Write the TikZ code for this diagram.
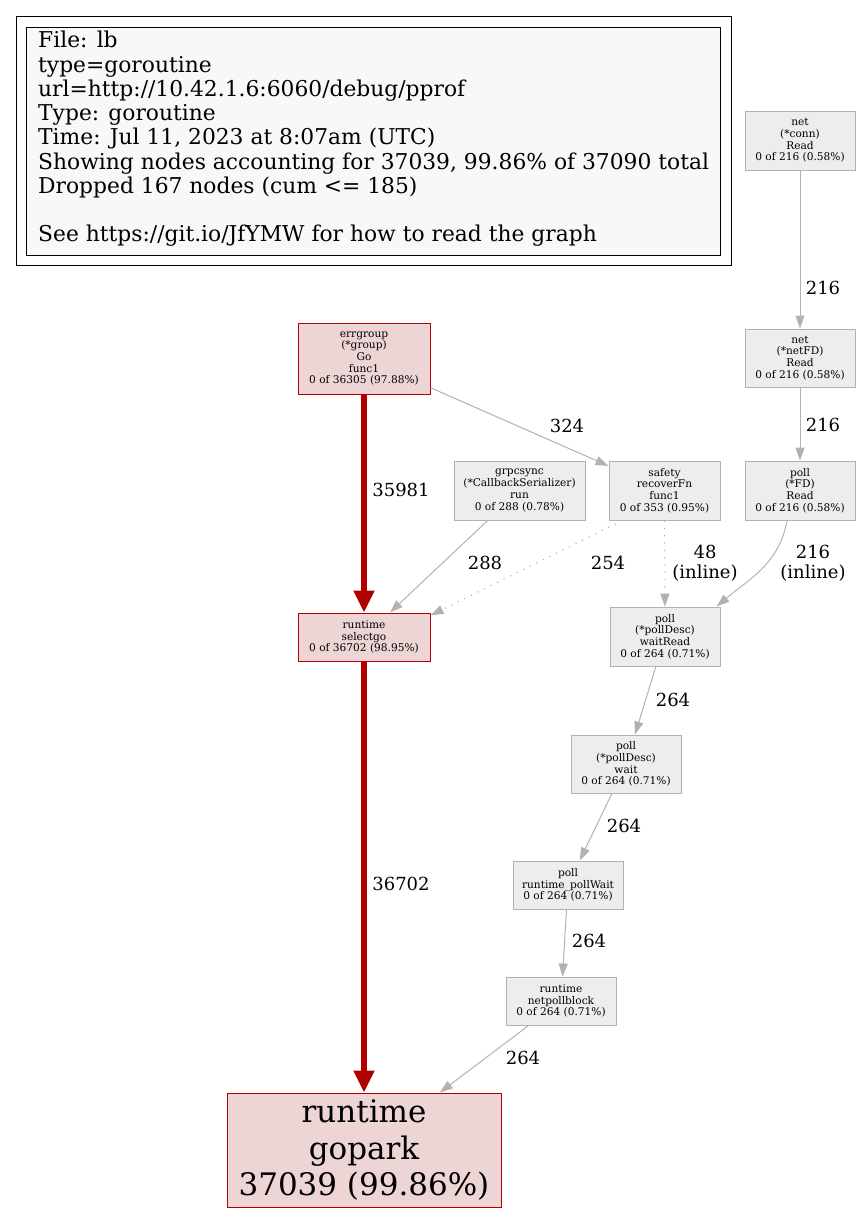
\documentclass[tikz,border=0pt]{standalone}
\usepackage{fontspec}
\setmainfont{DejaVu Serif}
\usetikzlibrary{arrows.meta}
\definecolor{hotred}{HTML}{B20000}
\definecolor{hotfill}{HTML}{EDD5D5}
\definecolor{coldgray}{HTML}{B2B2B2}
\definecolor{coldfill}{HTML}{EDEDEC}
\definecolor{legfill}{HTML}{F8F8F8}
\tikzset{
    fn/.style = {draw=coldgray,fill=coldfill,line width=1pt,align=center,inner sep=0,font=\fontsize{10.6}{11.7}\selectfont},
    hot/.style = {fn,draw=hotred,fill=hotfill},
    call/.style = {draw=coldgray,line width=1pt,-{Triangle[length=13pt,width=9pt]}},
    inl/.style = {call,dash pattern=on 1.3pt off 6pt},
    hotcall/.style = {draw=hotred,line width=5.3pt,-{Triangle[length=22pt,width=20pt]}},
    lbl/.style = {font=\fontsize{18}{20}\selectfont,align=center}
}

\begin{document}
\begin{tikzpicture}[x=1pt,y=-1pt]
        \useasboundingbox (0,0) rectangle (861,1213);
        % Legend
        \draw[line width=1pt] (16,16) rectangle (731,265);
        \node[draw,fill=legfill,line width=1pt,minimum width=694,minimum height=228,anchor=north west] (legend) at (26,27) {};
        \node[anchor=north west,align=left,inner sep=0,font=\fontsize{21.8}{24.25}\selectfont] (legtext) at (38,31) {File: lb\\type=goroutine\\url=http://10.42.1.6:6060/debug/pprof\\Type: goroutine\\Time: Jul 11, 2023 at 8:07am (UTC)\\Showing nodes accounting for 37039, 99.86\% of 37090 total\\Dropped 167 nodes (cum <= 185)\\~\\See https://git.io/JfYMW for how to read the graph};
        % Functions
        \node[hot,minimum width=132,minimum height=71] (errgroup) at (364,358.5) {errgroup\\(*group)\\Go\\func1\\0 of 36305 (97.88\%)};
        \node[hot,minimum width=132,minimum height=48] (selectgo) at (364,637) {runtime\\selectgo\\0 of 36702 (98.95\%)};
        \node[hot,minimum width=274,minimum height=114,font=\fontsize{31}{36.5}\selectfont] (gopark) at (364,1150) {runtime\\gopark\\37039 (99.86\%)};
        \node[fn,minimum width=131,minimum height=59] (grpcsync) at (519.5,490.5) {grpcsync\\(*CallbackSerializer)\\run\\0 of 288 (0.78\%)};
        \node[fn,minimum width=111,minimum height=59] (safety) at (664.5,490.5) {safety\\recoverFn\\func1\\0 of 353 (0.95\%)};
        \node[fn,minimum width=110,minimum height=59] (conn) at (800,140.5) {net\\(*conn)\\Read\\0 of 216 (0.58\%)};
        \node[fn,minimum width=110,minimum height=58] (netfd) at (800,358) {net\\(*netFD)\\Read\\0 of 216 (0.58\%)};
        \node[fn,minimum width=110,minimum height=59] (fd) at (800,490.5) {poll\\(*FD)\\Read\\0 of 216 (0.58\%)};
        \node[fn,minimum width=110,minimum height=59] (waitread) at (665,636.5) {poll\\(*pollDesc)\\waitRead\\0 of 264 (0.71\%)};
        \node[fn,minimum width=110,minimum height=58] (wait) at (626,764) {poll\\(*pollDesc)\\wait\\0 of 264 (0.71\%)};
        \node[fn,minimum width=110,minimum height=48] (pollwait) at (568,885) {poll\\runtime\_pollWait\\0 of 264 (0.71\%)};
        \node[fn,minimum width=110,minimum height=48] (netpollblock) at (561,1001) {runtime\\netpollblock\\0 of 264 (0.71\%)};
        % Hot path
        \draw[hotcall] (errgroup) -- (selectgo) node[lbl] at (401,490) {35981};
        \draw[hotcall] (selectgo) -- (gopark) node[lbl] at (401,884) {36702};
        % Calls
        \foreach \src/\dest/\lx/\ly/\cnt in {errgroup/safety/567/426/324,grpcsync/selectgo/485/563/288,conn/netfd/823/288/216,netfd/fd/823/425/216,waitread/wait/673/700/264,wait/pollwait/624/826/264,pollwait/netpollblock/589/941/264,netpollblock/gopark/523/1058/264}
            \draw[call] (\src) -- (\dest) node[lbl] at (\lx,\ly) {\cnt};
        \draw[call] ([xshift=-13]fd.south) to[out=-100,in=40] ([xshift=-4]waitread.north east) node[lbl] at (813,563) {216\\(inline)};
        % Inlined calls
        \draw[inl] (safety) -- (waitread) node[lbl] at (705,563) {48\\(inline)};
        \draw[inl] ([xshift=-42]safety.south) -- (selectgo.18) node[lbl] at (608,563) {254};
    \end{tikzpicture}
\end{document}
